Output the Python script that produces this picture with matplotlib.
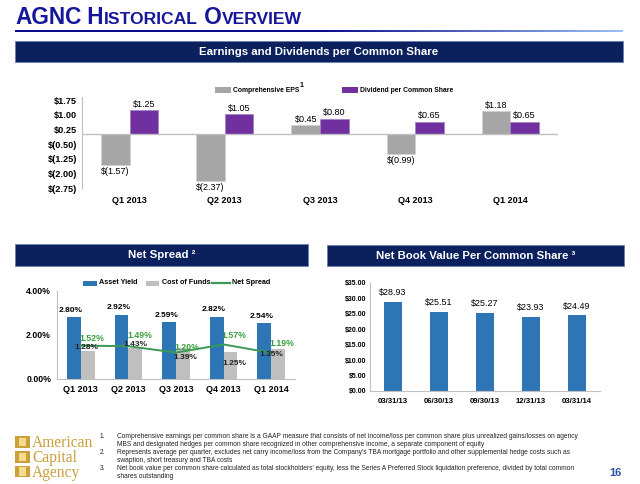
"""
AGNC historical overview slide: EPS vs dividends, net spread, book value
"""

import numpy as np
import matplotlib
matplotlib.use('Agg')
import matplotlib.pyplot as plt
from matplotlib.patches import Rectangle
from matplotlib.lines import Line2D

plt.rcParams['font.family'] = ['Liberation Sans', 'DejaVu Sans']

# data
quarters = ['Q1 2013', 'Q2 2013', 'Q3 2013', 'Q4 2013', 'Q1 2014']
comp_eps = [-1.57, -2.37, 0.45, -0.99, 1.18]
dividend = [1.25, 1.05, 0.80, 0.65, 0.65]

asset_yield = [2.80, 2.92, 2.59, 2.82, 2.54]
cost_of_funds = [1.28, 1.43, 1.39, 1.25, 1.35]
net_spread = [1.52, 1.49, 1.20, 1.57, 1.19]

bv_dates = ['03/31/13', '06/30/13', '09/30/13', '12/31/13', '03/31/14']
book_value = [28.93, 25.51, 25.27, 23.93, 24.49]

eps_ticks = [1.75, 1.00, 0.25, -0.50, -1.25, -2.00, -2.75]
spread_ticks = [0, 2, 4]
bv_ticks = [0, 5, 10, 15, 20, 25, 30, 35]

footnotes = [
    ('1.', 'Comprehensive earnings per common share is a GAAP measure that consists of net income/loss per common share plus unrealized gains/losses on agency'),
    ('', 'MBS and designated hedges per common share recognized in other comprehensive income, a separate component of equity'),
    ('2.', "Represents average per quarter, excludes net carry income/loss from the Company's TBA mortgage portfolio and other supplemental hedge costs such as"),
    ('', 'swaption, short treasury and TBA costs'),
    ('3.', "Net book value per common share calculated as total stockholders' equity, less the Series A Preferred Stock liquidation preference, divided by total common"),
    ('', 'shares outstanding'),
]

NAVY = '#0b215e'
GRID = '#bfbfbf'
W, H = 640, 484

fig = plt.figure(figsize=(6.4, 4.84), dpi=100)


def rect(x0, y0, x1, y1):
    # pixel box (y from top) -> figure fraction
    return [x0 / W, 1 - y1 / H, (x1 - x0) / W, (y1 - y0) / H]


def ftext(x, y, s, **kw):
    return fig.text(x / W, 1 - y / H, s, **kw)


def fbox(x0, y0, x1, y1, color, **kw):
    fig.add_artist(Rectangle((x0 / W, 1 - y1 / H), (x1 - x0) / W, (y1 - y0) / H,
                             transform=fig.transFigure, facecolor=color, **kw))


def banner(x0, y0, x1, y1, s):
    fbox(x0, y0, x1, y1, NAVY, edgecolor='#6a7fb0', linewidth=0.6)
    ftext((x0 + x1) / 2, (y0 + y1) / 2 + 0.5, s, color='white', fontsize=8.2,
          fontweight='bold', ha='center', va='center')


def money(v):
    if v < 0:
        return '$({:.2f})'.format(-v)
    return '${:.2f}'.format(v)


def style_axes(ax, bottom=True):
    for s in ['top', 'right']:
        ax.spines[s].set_visible(False)
    ax.spines['left'].set_color(GRID)
    ax.spines['bottom'].set_color(GRID)
    ax.spines['bottom'].set_visible(bottom)
    ax.tick_params(length=0)


# title in small caps
renderer = fig.canvas.get_renderer()
tx = 15
for part, size in [('AGNC', 16.3), (' H', 16.3), ('ISTORICAL', 12.6), (' O', 16.3), ('VERVIEW', 12.6)]:
    t = ftext(tx, 24.5, part, fontsize=size, fontweight='bold', color='#16169a', va='baseline')
    tx += t.get_window_extent(renderer).width

# gradient rule under title
rule = fig.add_axes(rect(15, 30, 623, 32.5))
rule.axis('off')
grad = np.linspace(0, 1, 256).reshape(1, -1)
cmap = matplotlib.colors.LinearSegmentedColormap.from_list(
    'rule', [(0, '#0a0a8a'), (0.5, '#0a0a8a'), (1, '#9cc0f5')])
rule.imshow(grad, aspect='auto', cmap=cmap)

banner(15, 41, 623, 62, 'Earnings and Dividends per Common Share')
banner(15, 244, 308, 266, 'Net Spread ²')
banner(327, 245, 624, 266, 'Net Book Value Per Common Share ³')

# Chart 1: EPS and dividends
x = np.arange(len(quarters))
ax1 = fig.add_axes(rect(82, 96.5, 558, 188))
bw = 0.30
b_eps = ax1.bar(x - bw / 2, comp_eps, bw, color='#a6a6a6', edgecolor='#d0d0d0', linewidth=0.5)
b_div = ax1.bar(x + bw / 2, dividend, bw, color='#7030a0', edgecolor='#a080c0', linewidth=0.5)
ax1.axhline(0, color=GRID, linewidth=1)
ax1.set_xlim(-0.5, 4.5)
ax1.set_ylim(-2.75, 1.93)
ax1.set_yticks(eps_ticks)
ax1.set_yticklabels([money(v) for v in eps_ticks], fontsize=6.6, fontweight='bold')
ax1.set_xticks(x)
ax1.set_xticklabels(quarters, fontsize=6.5, fontweight='bold')
style_axes(ax1, bottom=False)
ax1.tick_params(axis='y', pad=3.6)
ax1.tick_params(axis='x', pad=5.5)
for bars, vals in [(b_eps, comp_eps), (b_div, dividend)]:
    for b, v in zip(bars, vals):
        cx = b.get_x() + b.get_width() / 2
        if v >= 0:
            ax1.annotate(money(v), (cx, v), xytext=(0, 0.8), textcoords='offset points',
                         ha='center', va='bottom', fontsize=6.5)
        else:
            ax1.annotate(money(v), (cx, v), xytext=(0, -1.5), textcoords='offset points',
                         ha='center', va='top', fontsize=6.5)

# legend chart 1
fbox(215, 87, 231, 93, '#a6a6a6')
ftext(233, 90.5, 'Comprehensive EPS', fontsize=4.9, fontweight='bold', va='center')
ftext(300, 85.5, '1', fontsize=5, fontweight='bold', va='center')
fbox(342, 87, 358, 93, '#7030a0')
ftext(360, 90.5, 'Dividend per Common Share', fontsize=4.9, fontweight='bold', va='center')

# Chart 2: net spread
ax2 = fig.add_axes(rect(57, 291, 295, 379))
bw2 = 0.29
b_ay = ax2.bar(x - bw2 / 2, asset_yield, bw2, color='#2e75b6')
b_cf = ax2.bar(x + bw2 / 2, cost_of_funds, bw2, color='#bfbfbf')
ax2.plot(x, net_spread, color='#3a9a55', linewidth=1.4)
ax2.set_xlim(-0.5, 4.5)
ax2.set_ylim(0, 4)
ax2.set_yticks(spread_ticks)
ax2.set_yticklabels(['{:.2f}%'.format(v) for v in spread_ticks], fontsize=6.3, fontweight='bold')
ax2.set_xticks(x)
ax2.set_xticklabels(quarters, fontsize=6.5, fontweight='bold')
style_axes(ax2)
ax2.tick_params(axis='y', pad=4.3)
ax2.tick_params(axis='x', pad=4.3)

for b, v in zip(b_ay, asset_yield):
    ax2.annotate('{:.2f}%'.format(v), (b.get_x() + b.get_width() / 2, v), xytext=(-2, 2.5),
                 textcoords='offset points', ha='center', va='bottom', fontsize=6, fontweight='bold')

cf_offsets = [(4, 2.5), (5, 2.5), (7, -6.5), (8, -8.5), (0, -3.5)]
for i, v in enumerate(cost_of_funds):
    dx, dy = cf_offsets[i]
    ax2.annotate('{:.2f}%'.format(v), (x[i], v), xytext=(dx, dy), textcoords='offset points',
                 ha='center', va='center', fontsize=6, fontweight='bold', color='#222222')

ns_offsets = [(8, 4.8), (8.5, 8), (8, 4), (7.5, 6.8), (8, 6.5)]
for i, v in enumerate(net_spread):
    dx, dy = ns_offsets[i]
    ax2.annotate('{:.2f}%'.format(v), (x[i], v), xytext=(dx, dy), textcoords='offset points',
                 ha='center', va='center', fontsize=6.3, fontweight='bold', color='#3aa040')

# legend chart 2
fbox(83, 280.5, 97, 285.5, '#2e75b6')
ftext(99, 283, 'Asset Yield', fontsize=5.2, fontweight='bold', va='center')
fbox(146, 280.5, 159, 285.5, '#bfbfbf')
ftext(162, 283, 'Cost of Funds', fontsize=5.2, fontweight='bold', va='center')
fig.add_artist(Line2D([212 / W, 230 / W], [1 - 283 / H, 1 - 283 / H], color='#3a9a55',
                      linewidth=1.6, transform=fig.transFigure))
ftext(232, 283, 'Net Spread', fontsize=5.2, fontweight='bold', va='center')

# Chart 3: book value
ax3 = fig.add_axes(rect(370, 283, 600, 391))
b_bv = ax3.bar(x, book_value, 0.39, color='#2e75b6')
ax3.set_xlim(-0.5, 4.5)
ax3.set_ylim(0, 35)
ax3.set_yticks(bv_ticks)
ax3.set_yticklabels([money(v) for v in bv_ticks], fontsize=5, fontweight='bold')
ax3.set_xticks(x)
ax3.set_xticklabels(bv_dates, fontsize=5.6, fontweight='bold')
style_axes(ax3)
ax3.tick_params(axis='y', pad=2.9)
ax3.tick_params(axis='x', pad=5)
for b, v in zip(b_bv, book_value):
    ax3.annotate(money(v), (b.get_x() + b.get_width() / 2, v), xytext=(0, 3.5),
                 textcoords='offset points', ha='center', va='bottom', fontsize=6.4)

# footer logo
GOLD = '#c9a03c'
for y0 in [436, 451, 465.5]:
    fbox(15, y0, 30, y0 + 11.5, GOLD)
    fbox(19, y0 + 1.5, 26, y0 + 10, '#f3dc8c')
for y, word in [(443, 'American'), (458, 'Capital'), (473, 'Agency')]:
    ftext(32, y, word, fontsize=11.2, family=['Liberation Serif', 'DejaVu Serif'],
          color=GOLD, va='center')

# footnotes
for i, (num, line) in enumerate(footnotes):
    yy = 436 + i * 8.2
    if num:
        ftext(100, yy, num, fontsize=4.8, va='center', color='#222222')
    ftext(117, yy, line, fontsize=4.8, va='center', color='#222222')

ftext(615, 473, '16', fontsize=8, fontweight='bold', color='#2a4fa8', ha='center', va='center')

plt.savefig('out.png', dpi=100)
